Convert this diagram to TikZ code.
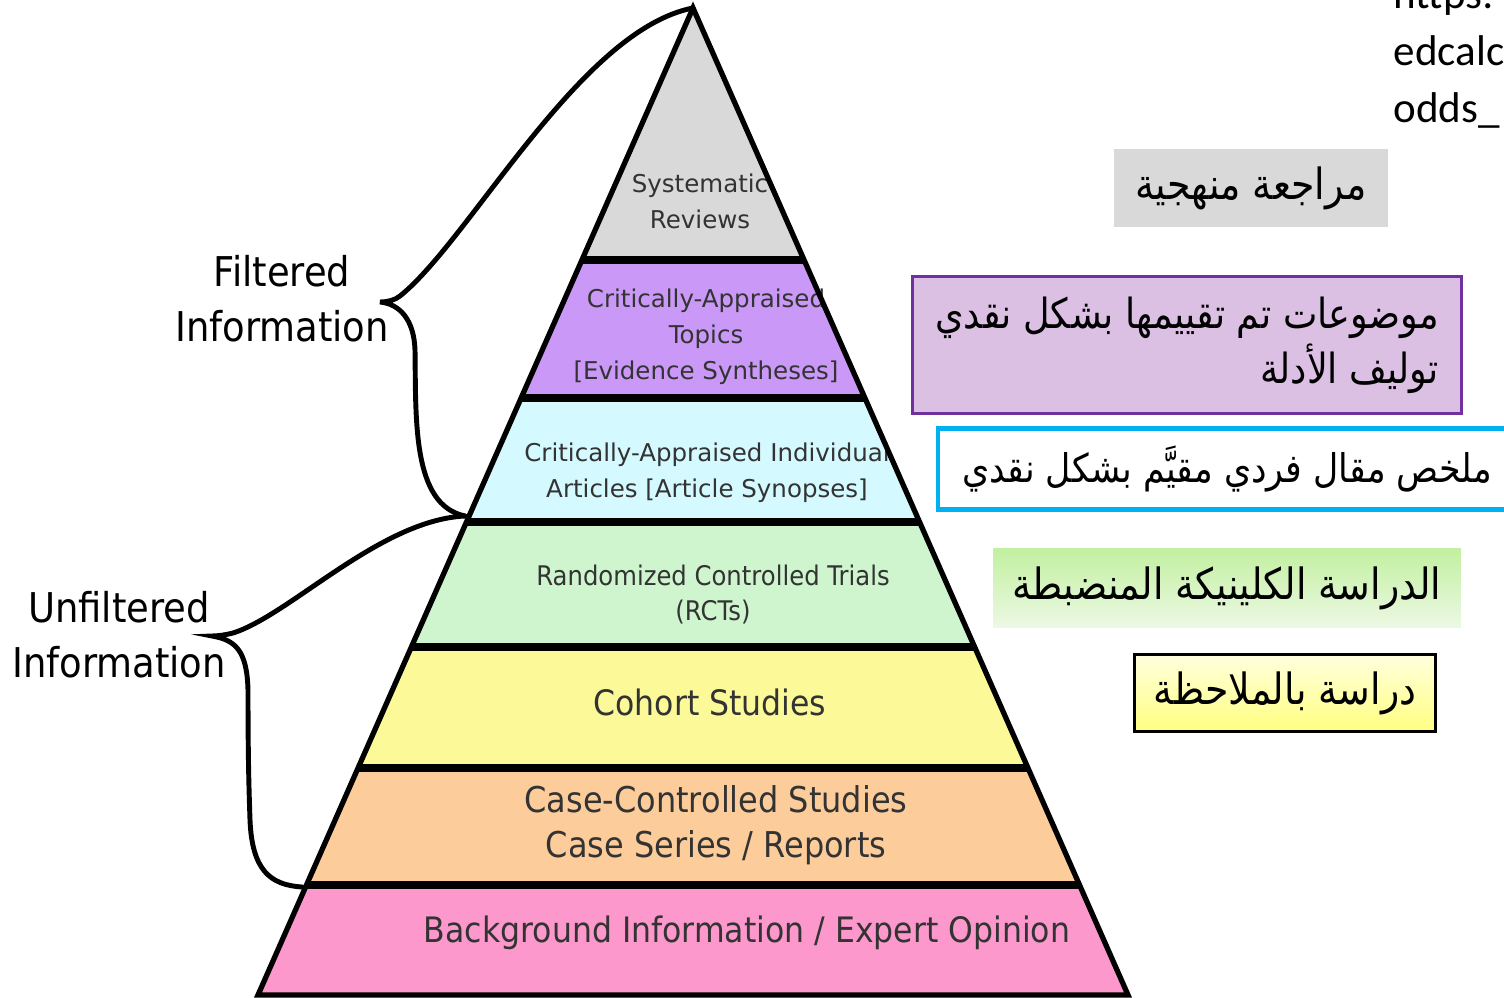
\documentclass[tikz,border=0pt]{standalone}
\usepackage{fontspec}
\setmainfont{DejaVu Sans}
\newfontfamily\condfont[FakeStretch=0.9]{DejaVu Sans}
\newfontfamily\arabicfont[Script=Arabic,FakeStretch=0.88]{DejaVu Sans}
\newfontfamily\urlfont{Carlito}
\TeXXeTstate=1

\definecolor{lvlgray}{RGB}{217,217,217}
\definecolor{lvlpurple}{RGB}{202,152,246}
\definecolor{lvlcyan}{RGB}{212,250,255}
\definecolor{lvlgreen}{RGB}{206,245,206}
\definecolor{lvlyellow}{RGB}{252,250,152}
\definecolor{lvlorange}{RGB}{252,204,154}
\definecolor{lvlpink}{RGB}{252,152,204}
\definecolor{boxpurple}{RGB}{112,48,160}
\definecolor{boxlilac}{RGB}{220,192,228}
\definecolor{boxblue}{RGB}{0,176,240}

\begin{document}
\begin{tikzpicture}[x=0.01cm, y=-0.01cm, inner sep=0pt,
            lvltext/.style={text=black!80, align=center, font=\fontsize{0.245cm}{0.36cm}\selectfont},
            brace/.style={line width=1.4pt, line cap=round},
            arlabel/.style={font=\arabicfont\fontsize{0.43cm}{0.55cm}\selectfont}]
                \useasboundingbox (0,0) rectangle (1504,998);
                \clip (0,0) rectangle (1504,998);
                \fill[white] (0,0) rectangle (1504,998);

                \coordinate (apex) at (693,8);
                \coordinate (base-l) at (258,995);
                \coordinate (base-r) at (1128,995);

                % bands of the pyramid, top to bottom
                \foreach \ya/\yb/\col in {8/260/lvlgray, 260/398/lvlpurple, 398/522/lvlcyan,
                        522/647/lvlgreen, 647/768/lvlyellow, 768/885/lvlorange, 885/995/lvlpink}
                    \fill[\col] ({693-0.44*(\ya-8)},\ya) -- ({693+0.44*(\ya-8)},\ya)
                        -- ({693+0.44*(\yb-8)},\yb) -- ({693-0.44*(\yb-8)},\yb) -- cycle;

                \node[lvltext](sr) at (700,201) {Systematic\\Reviews};
                \node[lvltext](cat) at (706,337) {Critically-Appraised\\Topics\\{[Evidence Syntheses]}};
                \node[lvltext](cai) at (707,473) {Critically-Appraised Individual\\Articles [Article Synopses]};
                \node[lvltext, font=\condfont\fontsize{0.27cm}{0.35cm}\selectfont](rct) at (713,595) {Randomized Controlled Trials\\(RCTs)};
                \node[lvltext, font=\condfont\fontsize{0.35cm}{0.45cm}\selectfont](coh) at (710,702) {Cohort Studies};
                \node[lvltext, font=\condfont\fontsize{0.355cm}{0.45cm}\selectfont](ccs) at (716,825) {Case-Controlled Studies\\Case Series / Reports};
                \node[lvltext, font=\condfont\fontsize{0.35cm}{0.45cm}\selectfont](bg) at (747,933) {Background Information / Expert Opinion};

                \foreach \y in {260,398,522,647,768,885}
                    \draw[line width=2pt] ({693-0.44*(\y-8)},\y) -- ({693+0.44*(\y-8)},\y);
                \draw[line width=1.5pt, line join=miter] (apex) -- (base-r) -- (base-l) -- cycle;

                % braces on the left
                \coordinate (ftip) at (380,302);
                \coordinate (mid) at (465,516);
                \coordinate (utip) at (212,636);
                \coordinate (uend) at (302,887);
                \draw[brace] (apex) .. controls (580,30) and (470,240) .. (400,296)
                    .. controls (395,300) and (388,302) .. (ftip)
                    .. controls (400,304) and (414,320) .. (415,350)
                    .. controls (416,420) and (412,505) .. (mid);
                \draw[brace] (mid) .. controls (380,520) and (290,615) .. (233,633)
                    .. controls (225,635) and (218,636) .. (utip)
                    .. controls (235,640) and (247,650) .. (248,690)
                    .. controls (248,760) and (249,790) .. (250,820)
                    .. controls (252,870) and (270,885) .. (uend);

                \node[align=center, font=\condfont\fontsize{0.41cm}{0.55cm}\selectfont](filt) at (282,299) {Filtered\\Information};
                \node[align=center, font=\condfont\fontsize{0.41cm}{0.55cm}\selectfont](unfilt) at (119,635) {Unfiltered\\Information};

                % arabic captions on the right
                \node[arlabel, fill=lvlgray, minimum width=2.74cm, minimum height=0.78cm](ar-sr) at (1251,188)
                    {\beginR مراجعة منهجية\endR};
                \node[arlabel, font=\arabicfont\fontsize{0.415cm}{0.55cm}\selectfont, draw=boxpurple, line width=0.9pt,
                        fill=boxlilac, align=right, minimum width=5.48cm, minimum height=1.37cm](ar-cat) at (1187,345)
                    {\beginR موضوعات تم تقييمها بشكل نقدي\endR\\\beginR توليف الأدلة\endR};
                \node[arlabel, draw=boxblue, line width=1.3pt, fill=white,
                        minimum width=5.74cm, minimum height=0.81cm](ar-cai) at (1225,469) {};
                \node[arlabel, font=\arabicfont\fontsize{0.395cm}{0.55cm}\selectfont](ar-cai-text) at (1227,469)
                    {\beginR ملخص مقال فردي مقيَّم بشكل نقدي\endR};
                \node[arlabel, top color={rgb,255:red,194;green,240;blue,160}, bottom color={rgb,255:red,236;green,248;blue,228},
                        minimum width=4.67cm, minimum height=0.79cm](ar-rct) at (1227,588)
                    {\beginR الدراسة الكلينيكة المنضبطة\endR};
                \node[arlabel, draw=black, line width=0.7pt, top color={rgb,255:red,255;green,255;blue,222}, bottom color={rgb,255:red,255;green,255;blue,128},
                        minimum width=3.01cm, minimum height=0.77cm](ar-coh) at (1285,693)
                    {\beginR دراسة بالملاحظة\endR};

                \node[anchor=base west, font=\urlfont\fontsize{0.43cm}{0.57cm}\selectfont](url1) at (1393,9) {https:};
                \node[anchor=base west, font=\urlfont\fontsize{0.43cm}{0.57cm}\selectfont](url2) at (1393,66) {edcalc};
                \node[anchor=base west, font=\urlfont\fontsize{0.43cm}{0.57cm}\selectfont](url3) at (1393,123) {odds\_};
        \end{tikzpicture}
\end{document}
